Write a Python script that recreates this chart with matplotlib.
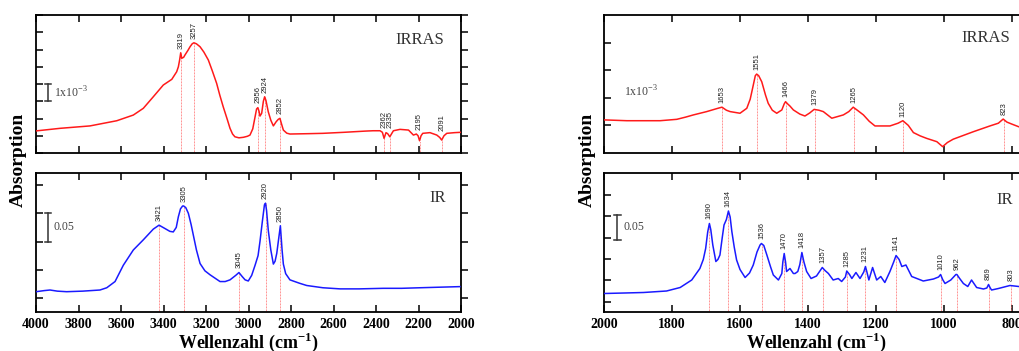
import numpy as np
import matplotlib
matplotlib.use("Agg")
import matplotlib.pyplot as plt
import matplotlib.transforms as mtransforms

plt.rcParams['font.family'] = 'Liberation Serif'
plt.rcParams['mathtext.fontset'] = 'custom'
plt.rcParams['mathtext.rm'] = 'Liberation Serif'
plt.rcParams['mathtext.bf'] = 'Liberation Serif:bold'

# IRRAS, 4000-2000 cm-1 (Absorption in 1e-3)
irras_hi_wn = [4000, 3887, 3746, 3620, 3542, 3495, 3448, 3401, 3361, 3338, 3330, 3324, 3319, 3314,
               3305, 3299, 3285, 3275, 3265, 3257, 3245, 3228, 3210, 3189, 3170, 3150, 3135, 3119,
               3100, 3087, 3075, 3064, 3045, 3024, 3005, 2993, 2980, 2969, 2962, 2956, 2950, 2946,
               2938, 2930, 2924, 2918, 2907, 2895, 2883, 2870, 2860, 2852, 2845, 2836, 2820, 2805,
               2720, 2650, 2550, 2450, 2414, 2381, 2370, 2362, 2353, 2345, 2335, 2325, 2318, 2287,
               2247, 2224, 2210, 2202, 2195, 2188, 2180, 2146, 2114, 2100, 2091, 2080, 2067, 2030, 2000]
irras_hi_y = [1.28, 1.43, 1.57, 1.87, 2.20, 2.59, 3.26, 3.94, 4.27, 4.71, 5.00, 5.40, 5.81, 5.49,
              5.55, 5.68, 5.95, 6.16, 6.33, 6.39, 6.33, 6.16, 5.85, 5.39, 4.75, 4.04, 3.35, 2.68,
              1.95, 1.43, 1.10, 0.94, 0.88, 0.91, 0.97, 1.04, 1.40, 2.10, 2.55, 2.63, 2.40, 2.14,
              2.30, 3.00, 3.26, 3.05, 2.39, 1.90, 1.57, 1.81, 1.95, 2.01, 1.70, 1.33, 1.15, 1.10,
              1.12, 1.14, 1.20, 1.27, 1.29, 1.29, 1.20, 0.85, 1.18, 1.12, 0.94, 1.15, 1.29, 1.37,
              1.33, 1.04, 1.10, 1.00, 0.71, 1.00, 1.14, 1.18, 1.04, 0.90, 0.75, 1.00, 1.14, 1.18, 1.20]
irras_hi_peaks = [3319, 3257, 2956, 2924, 2852, 2362, 2335, 2195, 2091]

# IR, 4000-2000 cm-1
ir_hi_wn = [4000, 3960, 3934, 3900, 3856, 3780, 3699, 3667, 3628, 3589, 3542, 3495, 3448, 3421,
            3393, 3370, 3354, 3340, 3330, 3320, 3310, 3305, 3295, 3283, 3270, 3260, 3245, 3228,
            3205, 3181, 3134, 3110, 3087, 3060, 3045, 3030, 3016, 3001, 2985, 2969, 2955, 2946,
            2935, 2925, 2920, 2915, 2907, 2895, 2883, 2875, 2867, 2858, 2850, 2842, 2836, 2825,
            2805, 2760, 2726, 2650, 2569, 2480, 2366, 2280, 2193, 2100, 2005]
ir_hi_y = [0.011, 0.013, 0.014, 0.012, 0.011, 0.012, 0.014, 0.018, 0.029, 0.058, 0.085, 0.103, 0.122, 0.129,
           0.123, 0.118, 0.117, 0.125, 0.144, 0.158, 0.163, 0.163, 0.160, 0.150, 0.130, 0.112, 0.085, 0.061,
           0.048, 0.041, 0.029, 0.029, 0.032, 0.040, 0.045, 0.038, 0.032, 0.030, 0.040, 0.058, 0.075, 0.100,
           0.135, 0.165, 0.168, 0.155, 0.120, 0.085, 0.060, 0.065, 0.079, 0.105, 0.128, 0.085, 0.060, 0.043,
           0.032, 0.026, 0.022, 0.018, 0.016, 0.016, 0.017, 0.017, 0.018, 0.019, 0.020]
ir_hi_peaks = [3421, 3305, 3045, 2920, 2850]

# IRRAS, 2000-750 cm-1 (Absorption in 1e-3)
irras_lo_wn = [2000, 1933, 1835, 1786, 1760, 1737, 1698, 1665, 1653, 1640, 1629, 1600, 1580, 1570,
               1562, 1555, 1551, 1545, 1536, 1525, 1517, 1505, 1492, 1477, 1470, 1466, 1460, 1453,
               1443, 1424, 1409, 1395, 1382, 1368, 1355, 1330, 1296, 1280, 1267, 1255, 1237, 1220,
               1203, 1159, 1135, 1121, 1105, 1090, 1070, 1051, 1021, 1004, 990, 973, 914, 865,
               840, 826, 815, 801, 780, 750]
irras_lo_y = [1.20, 1.17, 1.17, 1.22, 1.30, 1.38, 1.50, 1.62, 1.66, 1.55, 1.50, 1.44, 1.62, 1.95,
              2.40, 2.80, 2.86, 2.80, 2.58, 2.10, 1.80, 1.55, 1.44, 1.56, 1.78, 1.86, 1.78, 1.70,
              1.56, 1.41, 1.34, 1.45, 1.58, 1.55, 1.50, 1.26, 1.38, 1.50, 1.66, 1.55, 1.38, 1.15,
              0.98, 0.98, 1.08, 1.17, 1.00, 0.74, 0.62, 0.53, 0.41, 0.23, 0.38, 0.50, 0.77, 0.98,
              1.08, 1.23, 1.12, 1.05, 0.95, 0.90]
irras_lo_peaks = [1653, 1551, 1466, 1379, 1265, 1120, 823]

# IR, 2000-750 cm-1
ir_lo_wn = [2000, 1940, 1884, 1816, 1776, 1742, 1718, 1708, 1701, 1695, 1690, 1686, 1680, 1671,
            1665, 1659, 1652, 1647, 1640, 1634, 1629, 1624, 1617, 1610, 1600, 1585, 1572, 1561,
            1550, 1541, 1537, 1530, 1521, 1510, 1502, 1487, 1477, 1474, 1470, 1466, 1463, 1453,
            1443, 1438, 1430, 1424, 1418, 1412, 1404, 1391, 1375, 1362, 1358, 1350, 1340, 1326,
            1311, 1301, 1290, 1286, 1278, 1271, 1259, 1247, 1236, 1231, 1226, 1221, 1210, 1198,
            1186, 1174, 1159, 1148, 1141, 1132, 1124, 1112, 1095, 1061, 1031, 1016, 1010, 1004,
            997, 980, 965, 962, 955, 943, 930, 919, 904, 884, 874, 869, 864, 860, 840, 806, 780, 750]
ir_lo_y = [0.037, 0.038, 0.039, 0.042, 0.049, 0.064, 0.087, 0.105, 0.127, 0.160, 0.177, 0.165, 0.134, 0.101,
           0.105, 0.114, 0.150, 0.174, 0.185, 0.202, 0.190, 0.161, 0.130, 0.104, 0.085, 0.069, 0.078, 0.094,
           0.120, 0.134, 0.137, 0.133, 0.114, 0.090, 0.074, 0.064, 0.077, 0.100, 0.117, 0.100, 0.081, 0.087,
           0.077, 0.077, 0.081, 0.095, 0.119, 0.100, 0.081, 0.067, 0.072, 0.085, 0.089, 0.083, 0.077, 0.064,
           0.067, 0.061, 0.070, 0.082, 0.075, 0.067, 0.079, 0.067, 0.080, 0.091, 0.078, 0.064, 0.089, 0.064,
           0.071, 0.059, 0.081, 0.100, 0.113, 0.105, 0.091, 0.094, 0.071, 0.062, 0.066, 0.070, 0.075, 0.065,
           0.057, 0.064, 0.075, 0.075, 0.068, 0.057, 0.051, 0.064, 0.049, 0.046, 0.048, 0.055, 0.048, 0.044,
           0.047, 0.053, 0.051, 0.050]
ir_lo_peaks = [1690, 1634, 1536, 1470, 1418, 1357, 1285, 1231, 1141, 1010, 962, 869, 803]

W, H = 1019, 351
fig = plt.figure(figsize=(W / 100, H / 100), dpi=100)


def make_ax(x0, y_top, y_bot, w=425):
    return fig.add_axes([x0 / W, (H - y_bot) / H, w / W, (y_bot - y_top) / H])


def style(ax, xlim, xticks, ylim, yticks, show_labels):
    ax.set_xticks(xticks)
    ax.set_yticks(yticks)
    ax.set_xlim(xlim)
    ax.set_ylim(ylim)
    ax.set_yticklabels([])
    for s in ax.spines.values():
        s.set_linewidth(1.3)
    ax.tick_params(axis='x', direction='in', top=True, bottom=True, length=5, width=1.1,
                   labelbottom=show_labels, labelsize=10, pad=4)
    ax.tick_params(axis='y', direction='in', left=True, right=False, length=5, width=1.1)
    for lab in ax.get_xticklabels():
        lab.set_fontweight('bold')
    ax2 = ax.twinx()
    ax2.set_yticks(yticks)
    ax2.set_ylim(ylim)
    ax2.set_yticklabels([])
    ax2.tick_params(axis='y', direction='out', length=5, width=1.1)
    for s in ax2.spines.values():
        s.set_visible(False)


def draw(ax, wn, y, peaks, color, ybottom):
    wn = np.array(wn)
    y = np.array(y)
    ax.plot(wn, y, color=color, lw=1.1, zorder=3)
    for p in peaks:
        yp = np.interp(p, wn[::-1], y[::-1])
        ax.plot([p, p], [ybottom, yp], color='#ff6a6a', lw=0.6, ls=(0, (1, 0.8)), zorder=2)
        win = np.linspace(p - 12, p + 12, 25)
        ytop = np.interp(win, wn[::-1], y[::-1]).max()
        ax.annotate(str(p), (p, ytop), xytext=(0, 3), textcoords='offset points',
                    rotation=90, ha='center', va='bottom', fontsize=5.5,
                    family='Liberation Sans', color='#222222')


def scale_bar(ax, xa, y0, y1, text, bar=True):
    tr = mtransforms.blended_transform_factory(ax.transAxes, ax.transData)
    if bar:
        kw = dict(color='#333333', lw=1.1, transform=tr, clip_on=False)
        ax.plot([xa, xa], [y0, y1], **kw)
        ax.plot([xa - 0.008, xa + 0.008], [y0, y0], **kw)
        ax.plot([xa - 0.008, xa + 0.008], [y1, y1], **kw)
    ax.text(xa + 0.014, (y0 + y1) / 2, text, transform=tr, fontsize=8.5,
            color='#444444', va='center', ha='left')


xt_hi = np.arange(4000, 1999, -200)
xt_lo = np.arange(2000, 799, -200)

ax1 = make_ax(36, 15, 153)
style(ax1, (4000, 2000), xt_hi, (0, 8), np.arange(0, 9, 1), False)
draw(ax1, irras_hi_wn, irras_hi_y, irras_hi_peaks, '#ff1a1a', 0)
scale_bar(ax1, 0.028, 3, 4, r'1x10$^{\mathregular{-3}}$')
ax1.text(0.902, 0.82, 'IRRAS', transform=ax1.transAxes, fontsize=12, color='#333333',
         ha='center', va='center')

ax2 = make_ax(36, 173, 312)
style(ax2, (4000, 2000), xt_hi, (-0.025, 0.2215), np.arange(0, 0.21, 0.05), True)
draw(ax2, ir_hi_wn, ir_hi_y, ir_hi_peaks, '#1a1aff', -0.025)
scale_bar(ax2, 0.028, 0.10, 0.15, '0.05')
ax2.text(0.945, 0.82, 'IR', transform=ax2.transAxes, fontsize=12, color='#333333',
         ha='center', va='center')
ax2.set_xlabel(r'Wellenzahl (cm$^{\mathbf{-1}}$)', fontsize=13, fontweight='bold', labelpad=0)

ax3 = make_ax(604, 15, 153)
style(ax3, (2000, 750), xt_lo, (0, 5), np.arange(1, 5, 1), False)
draw(ax3, irras_lo_wn, irras_lo_y, irras_lo_peaks, '#ff1a1a', 0)
scale_bar(ax3, 0.032, 1.71, 2.71, r'1x10$^{\mathregular{-3}}$', bar=False)
ax3.text(0.899, 0.833, 'IRRAS', transform=ax3.transAxes, fontsize=12, color='#333333',
         ha='center', va='center')

ax4 = make_ax(604, 173, 312)
style(ax4, (2000, 750), xt_lo, (0, 0.278), np.arange(0.0206, 0.27, 0.0426), True)
draw(ax4, ir_lo_wn, ir_lo_y, ir_lo_peaks, '#1a1aff', 0)
scale_bar(ax4, 0.031, 0.144, 0.194, '0.05')
ax4.text(0.943, 0.806, 'IR', transform=ax4.transAxes, fontsize=12, color='#333333',
         ha='center', va='center')
ax4.set_xlabel(r'Wellenzahl (cm$^{\mathbf{-1}}$)', fontsize=13, fontweight='bold', labelpad=0)

fig.text(18 / W, (H - 160) / H, 'Absorption', rotation=90, fontsize=14, fontweight='bold',
         ha='center', va='center')
fig.text(587 / W, (H - 160) / H, 'Absorption', rotation=90, fontsize=14, fontweight='bold',
         ha='center', va='center')

fig.savefig('out.png', dpi=100)
